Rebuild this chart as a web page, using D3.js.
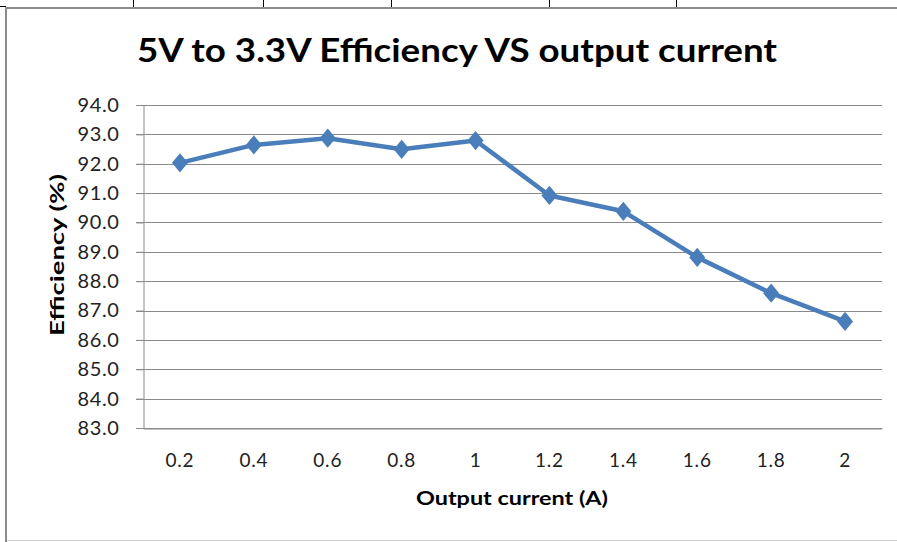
<!DOCTYPE html>
<html>
<head>
<meta charset="utf-8">
<script src="https://cdn.jsdelivr.net/npm/d3@7/dist/d3.min.js"></script>
<style>
  body { margin: 0; background: #fff; }
  svg text { font-family: Lato, "Open Sans", sans-serif; }
</style>
</head>
<body>
<script>
// chart data
var currents = ["0.2", "0.4", "0.6", "0.8", "1", "1.2", "1.4", "1.6", "1.8", "2"];
var efficiency = [92.03, 92.64, 92.87, 92.49, 92.79, 90.92, 90.38, 88.81, 87.59, 86.63];
var yTicks = [83, 84, 85, 86, 87, 88, 89, 90, 91, 92, 93, 94];
var tableMarks = [133, 263, 391, 549, 676];

var W = 897, H = 542;
var svg = d3.select("body").append("svg").attr("width", W).attr("height", H);

// surrounding table / frame bits
svg.append("line").attr("x1", 5).attr("x2", W).attr("y1", 8).attr("y2", 8)
  .attr("stroke", "#8c8c8c").attr("stroke-width", 2);
svg.append("line").attr("x1", 0).attr("x2", 6).attr("y1", 6.5).attr("y2", 6.5)
  .attr("stroke", "#000").attr("stroke-width", 1);
svg.append("line").attr("x1", 6).attr("x2", 6).attr("y1", 7).attr("y2", H)
  .attr("stroke", "#8c8c8c").attr("stroke-width", 2);
svg.append("line").attr("x1", 7).attr("x2", W).attr("y1", 540.5).attr("y2", 540.5)
  .attr("stroke", "#d0d0d0").attr("stroke-width", 1);
svg.selectAll("line.tbl").data(tableMarks).enter().append("line").attr("class", "tbl")
  .attr("x1", function(d){ return d + 0.5; }).attr("x2", function(d){ return d + 0.5; })
  .attr("y1", 0).attr("y2", 7).attr("stroke", "#000").attr("stroke-width", 1);

var plotL = 143, plotR = 882, plotT = 105, plotB = 428;

var x = d3.scaleBand().domain(currents).range([plotL, plotR]);
var y = d3.scaleLinear().domain([83, 94]).range([plotB, plotT]);

// gridlines
svg.append("g").selectAll("line").data(yTicks).enter().append("line")
  .attr("x1", plotL - 7).attr("x2", plotR)
  .attr("y1", function(d){ return Math.round(y(d)) + 0.5; })
  .attr("y2", function(d){ return Math.round(y(d)) + 0.5; })
  .attr("stroke", "#8a8a8a").attr("stroke-width", 1);

// y axis
var yAxis = svg.append("g").attr("transform", "translate(" + (plotL + 0.5) + ",0)")
  .call(d3.axisLeft(y).tickValues(yTicks).tickSize(7).tickPadding(17)
    .tickFormat(d3.format(".1f")));
yAxis.select(".domain").attr("stroke", "#8a8a8a");
yAxis.selectAll(".tick line").attr("stroke", "#8a8a8a");
yAxis.selectAll("text").attr("font-size", 20).attr("fill", "#222")
  .attr("font-family", "Lato, sans-serif").attr("letter-spacing", "0.6px");

// x axis
var xAxis = svg.append("g").attr("transform", "translate(0," + (plotB + 0.5) + ")")
  .call(d3.axisBottom(x).tickSize(0).tickPadding(25));
xAxis.select(".domain").attr("stroke", "#8a8a8a");
xAxis.selectAll("text").attr("font-size", 19).attr("fill", "#222")
  .attr("font-family", "Lato, sans-serif").attr("letter-spacing", "0.8px");

// line + markers
var cx = function(d, i){ return x(currents[i]) + x.bandwidth() / 2; };
var line = d3.line().x(cx).y(function(d){ return y(d); });
svg.append("path").datum(efficiency).attr("d", line)
  .attr("fill", "none").attr("stroke", "#4a7ebb").attr("stroke-width", 4.5)
  .attr("stroke-linejoin", "round");
svg.append("g").selectAll("path").data(efficiency).enter().append("path")
  .attr("d", d3.symbol().type(d3.symbolSquare).size(128))
  .attr("transform", function(d, i){ return "translate(" + cx(d, i) + "," + y(d) + ") scale(1,1.2) rotate(45)"; })
  .attr("fill", "#4a7ebb");

// titles
svg.append("text").attr("x", 457).attr("y", 62).attr("text-anchor", "middle")
  .attr("font-size", 32).attr("font-weight", "bold").attr("fill", "#000")
  .attr("textLength", 640).attr("lengthAdjust", "spacingAndGlyphs")
  .text("5V to 3.3V Efficiency VS output current");
svg.append("text").attr("x", 512).attr("y", 505).attr("text-anchor", "middle")
  .attr("font-size", 19).attr("font-weight", "bold").attr("fill", "#000")
  .attr("textLength", 192).attr("lengthAdjust", "spacingAndGlyphs")
  .text("Output current (A)");
svg.append("text").attr("transform", "translate(64,255) rotate(-90)").attr("text-anchor", "middle")
  .attr("font-size", 19).attr("font-weight", "bold").attr("fill", "#000")
  .attr("textLength", 162).attr("lengthAdjust", "spacingAndGlyphs")
  .text("Efficiency (%)");
</script>
</body>
</html>
